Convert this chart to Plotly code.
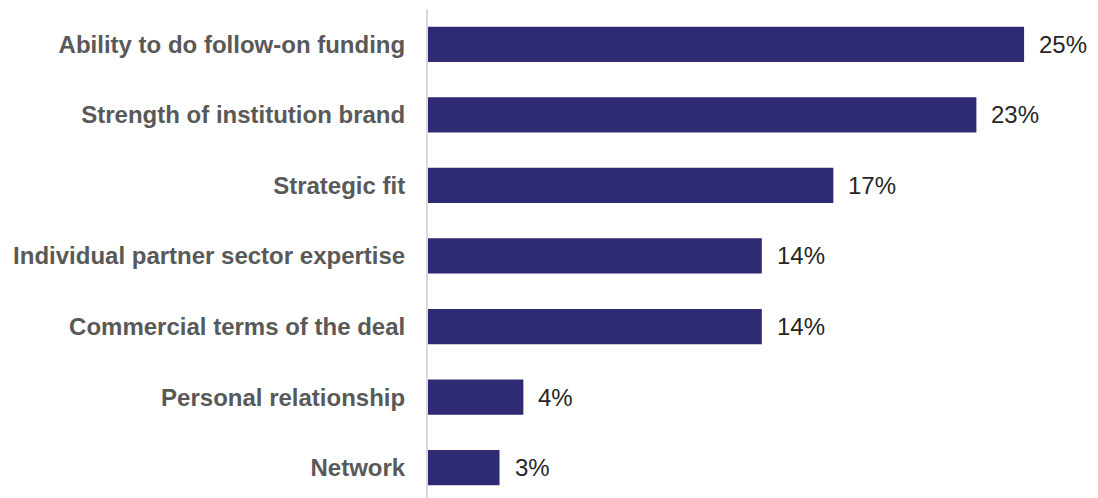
import plotly.graph_objects as go

categories = [
    "Ability to do follow-on funding",
    "Strength of institution brand",
    "Strategic fit",
    "Individual partner sector expertise",
    "Commercial terms of the deal",
    "Personal relationship",
    "Network",
]
values = [25, 23, 17, 14, 14, 4, 3]
value_labels = [f"{v}%" for v in values]

BAR_COLOR = "#2E2A74"
FONT = "Liberation Sans, Arial, sans-serif"

fig = go.Figure(
    go.Bar(
        x=values,
        y=categories,
        orientation="h",
        marker=dict(color=BAR_COLOR, line=dict(width=0)),
        width=0.5,
        hoverinfo="skip",
    )
)

for cat, v, lab in zip(categories, values, value_labels):
    fig.add_annotation(
        x=v, y=cat, text=lab, showarrow=False,
        xanchor="left", yanchor="middle", xshift=13,
        font=dict(family=FONT, size=24, color="#262626"),
    )

fig.update_layout(
    width=1098, height=498,
    margin=dict(l=428, r=0, t=9, b=0),
    paper_bgcolor="white", plot_bgcolor="white",
    showlegend=False,
    xaxis=dict(range=[0, 28.1], visible=False, fixedrange=True),
    yaxis=dict(
        categoryorder="array", categoryarray=categories,
        range=[6.43, -0.5],
        showline=True, linecolor="#D9D9D9", linewidth=2,
        showgrid=False, zeroline=False, ticks="",
        ticklabelstandoff=16,
        tickfont=dict(family=FONT, size=24, color="#595959", weight="bold"),
    ),
)

fig.write_html("out.html")
